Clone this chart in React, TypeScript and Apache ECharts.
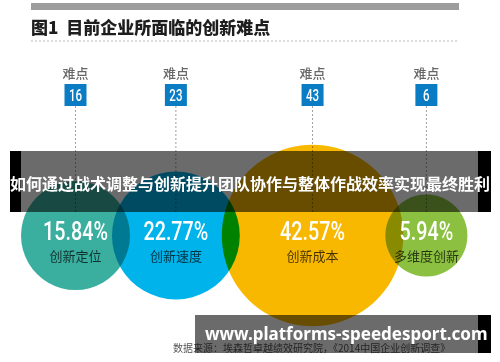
import React, { useEffect, useRef } from "react";
import * as echarts from "echarts";

// ---- data ----
const categories = ["创新定位", "创新速度", "创新成本", "多维度创新"];
const shares = [15.84, 22.77, 42.57, 5.94]; // % of companies
const difficulties = [16, 23, 43, 6]; // 难点 number
const title = "图1  目前企业所面临的创新难点";
const sourceText = "数据来源：埃森哲卓越绩效研究院，《2014中国企业创新调查》";
const bannerText = "如何通过战术调整与创新提升团队协作与整体作战效率实现最终胜利";
const siteText = "www.platforms-speedesport.com";

// ---- styles / layout ----
const colors = ["#3aae9f", "#00b3ea", "#f8b800", "#8cc041"];
const LEFT_PAD = 21;
const OVERLAP = 18;
const ROW_Y = 235.5;
const radius = (v: number) => 33 + 1.357 * v;

const centers: number[] = [];
shares.forEach((v, i) => {
  if (i === 0) centers.push(LEFT_PAD + radius(v));
  else centers.push(centers[i - 1] + radius(shares[i - 1]) + radius(v) - OVERLAP);
});

const SANS = "Roboto, 'Liberation Sans', sans-serif";
const CJK = "'Noto Sans CJK SC', 'Noto Sans', sans-serif";

export default function App() {
  const ref = useRef<HTMLDivElement>(null);
  useEffect(() => {
    document.body.style.margin = "0";
    const chart = echarts.init(ref.current!, null, { renderer: "svg" });
    chart.setOption({
      animation: false,
      grid: { left: 0, right: 0, top: 0, bottom: 0 },
      xAxis: { type: "value", min: 0, max: 500, show: false },
      yAxis: { type: "value", min: 0, max: 362, inverse: true, show: false },
      series: [
        {
          type: "scatter",
          z: 2,
          symbol: "circle",
          symbolSize: (val: number[]) => 2 * radius(val[2]),
          data: shares.map((v, i) => ({
            name: categories[i],
            value: [centers[i], ROW_Y, v],
            itemStyle: { color: colors[i], opacity: 1 },
          })),
          emphasis: { disabled: true },
        },
        {
          type: "custom",
          z: 5,
          data: difficulties.map((d, i) => [centers[i], d, shares[i]]),
          renderItem: (params: any, api: any) => {
            const i = params.dataIndex;
            const x = api.value(0);
            const d = api.value(1);
            const share = api.value(2);
            const [cx, boxTop] = api.coord([x, 84]);
            const boxBottom = api.coord([x, 106])[1];
            const lineEnd = api.coord([x, 212])[1];
            const labelY = api.coord([x, 72])[1];
            const pctY = api.coord([x, 231])[1];
            const nameY = api.coord([x, 255])[1];
            return {
              type: "group",
              children: [
                {
                  type: "line",
                  shape: { x1: cx, y1: boxBottom, x2: cx, y2: lineEnd },
                  style: { stroke: "#a0a0a0", lineWidth: 1, lineDash: [2, 2] },
                },
                {
                  type: "rect",
                  shape: { x: cx - 11, y: boxTop, width: 22, height: boxBottom - boxTop },
                  style: { fill: "#0a7cc4" },
                },
                {
                  type: "text",
                  x: cx,
                  y: (boxTop + boxBottom) / 2 + 1,
                  scaleX: 0.68,
                  style: {
                    x: 0,
                    y: 0,
                    text: String(d),
                    fill: "#ffffff",
                    font: `500 17px ${SANS}`,
                    align: "center",
                    verticalAlign: "middle",
                  },
                },
                {
                  type: "text",
                  style: {
                    x: cx,
                    y: labelY,
                    text: "难点",
                    fill: "#666666",
                    font: `500 13px ${CJK}`,
                    align: "center",
                    verticalAlign: "middle",
                  },
                },
                {
                  type: "text",
                  x: cx,
                  y: pctY,
                  scaleX: 0.79,
                  style: {
                    x: 0,
                    y: 0,
                    text: share.toFixed(2) + "%",
                    fill: "#ffffff",
                    font: `500 25px ${SANS}`,
                    align: "center",
                    verticalAlign: "middle",
                  },
                },
                {
                  type: "text",
                  style: {
                    x: cx,
                    y: nameY,
                    text: categories[i],
                    fill: "rgba(0,0,0,0.72)",
                    font: `13px ${CJK}`,
                    align: "center",
                    verticalAlign: "middle",
                  },
                },
              ],
            };
          },
        },
      ],
      graphic: [
        { type: "rect", shape: { x: 31, y: 3, width: 428, height: 7 }, style: { fill: "#9d9d9d" } },
        {
          type: "text",
          style: { x: 31, y: 26, text: title, fill: "#1e1e1e", font: `900 17px ${CJK}`, verticalAlign: "middle" },
        },
        {
          type: "line",
          shape: { x1: 31, y1: 41, x2: 459, y2: 41 },
          style: { stroke: "#bdbdbd", lineWidth: 1, lineDash: [2, 2] },
        },
        {
          type: "text",
          z: 1,
          style: { x: 173, y: 347, text: sourceText, fill: "#555555", font: `10px ${CJK}`, verticalAlign: "middle" },
        },
        // banner 1
        { type: "rect", z: 20, shape: { x: 21, y: 151, width: 457, height: 61 }, style: { fill: "rgba(0,0,0,0.58)" } },
        { type: "rect", z: 20, shape: { x: 10, y: 151, width: 11, height: 61 }, style: { fill: "#000000" } },
        { type: "rect", z: 20, shape: { x: 478, y: 151, width: 13, height: 61 }, style: { fill: "#000000" } },
        {
          type: "text",
          z: 21,
          style: {
            x: 250,
            y: 183,
            text: bannerText,
            fill: "#ffffff",
            font: `bold 16px ${CJK}`,
            align: "center",
            verticalAlign: "middle",
          },
        },
        // banner 2
        { type: "rect", z: 20, shape: { x: 195, y: 315, width: 283, height: 38 }, style: { fill: "rgba(0,0,0,0.58)" } },
        { type: "rect", z: 20, shape: { x: 478, y: 315, width: 13, height: 38 }, style: { fill: "#000000" } },
        {
          type: "text",
          z: 21,
          style: {
            x: 205,
            y: 333,
            text: siteText,
            fill: "#ffffff",
            font: `bold 17px 'Noto Sans', 'Open Sans', sans-serif`,
            verticalAlign: "middle",
          },
        },
      ],
    });
    return () => chart.dispose();
  }, []);
  return (
    <>
      <style>{`.chart-host svg path { mix-blend-mode: multiply; }`}</style>
      <div className="chart-host" ref={ref} style={{ width: 500, height: 362 }} />
    </>
  );
}
